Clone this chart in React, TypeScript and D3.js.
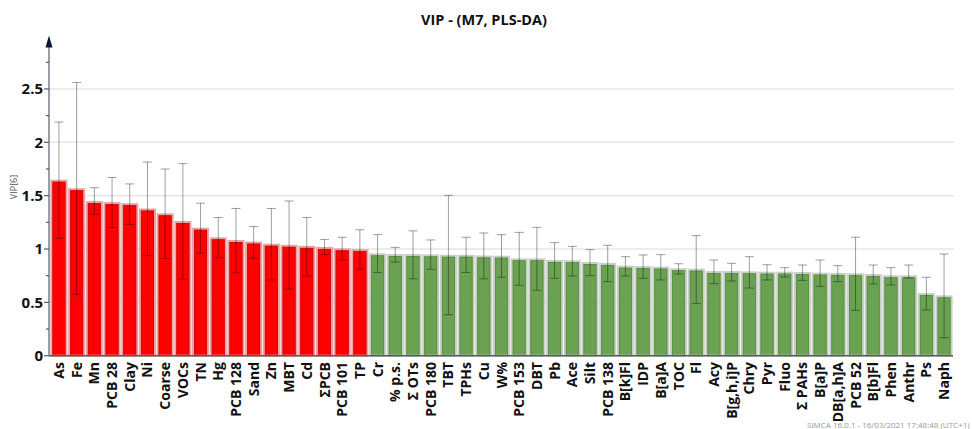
import React from "react";
import * as d3 from "d3";

const categories = ["As","Fe","Mn","PCB 28","Clay","Ni","Coarse","VOCs","TN","Hg","PCB 128","Sand","Zn","MBT","Cd","ΣPCB","PCB 101","TP","Cr","% p.s.","Σ OTs","PCB 180","TBT","TPHs","Cu","W%","PCB 153","DBT","Pb","Ace","Silt","PCB 138","B[k]Fl","IDP","B[a]A","TOC","Fl","Acy","B[g,h,i]P","Chry","Pyr","Fluo","Σ PAHs","B[a]P","DB[a,h]A","PCB 52","B[b]Fl","Phen","Anthr","Ps","Naph"];
const vip = [1.64,1.56,1.44,1.43,1.42,1.37,1.325,1.253,1.19,1.10,1.075,1.06,1.04,1.03,1.02,1.01,0.997,0.99,0.95,0.944,0.944,0.94,0.937,0.937,0.93,0.928,0.903,0.903,0.888,0.885,0.869,0.86,0.834,0.831,0.825,0.81,0.806,0.784,0.784,0.781,0.778,0.778,0.775,0.769,0.766,0.763,0.756,0.744,0.744,0.578,0.556];
const errHigh = [2.19,2.56,1.575,1.67,1.61,1.815,1.75,1.80,1.43,1.295,1.38,1.21,1.38,1.45,1.295,1.09,1.11,1.18,1.135,1.015,1.17,1.085,1.503,1.11,1.15,1.134,1.156,1.203,1.06,1.025,0.994,1.035,0.928,0.944,0.947,0.862,1.125,0.897,0.866,0.928,0.853,0.825,0.85,0.897,0.844,1.11,0.85,0.825,0.85,0.735,0.953];
const errLow = [1.10,0.575,1.325,1.20,1.23,0.94,0.91,0.716,0.963,0.916,0.775,0.913,0.71,0.625,0.747,0.947,0.897,0.81,0.78,0.878,0.72,0.81,0.384,0.78,0.72,0.735,0.66,0.613,0.725,0.747,0.75,0.694,0.747,0.725,0.71,0.766,0.49,0.675,0.70,0.634,0.71,0.738,0.706,0.65,0.694,0.425,0.672,0.663,0.728,0.428,0.169];
const redCount = 18;
const majorTicks = [0, 0.5, 1, 1.5, 2, 2.5];
const minorTicks = [0.25, 0.75, 1.25, 1.75, 2.25, 2.75];
const tickLabels = ["0", "0.5", "1", "1.5", "2", "2.5"];

const W = 972, H = 429;
const axisX = 49, plotRight = 954, baseY = 355.7;
const font = "'Open Sans', 'DejaVu Sans', sans-serif";

export default function App() {
  const x = d3.scaleBand<string>().domain(categories).range([50, 953]).paddingInner(0.15).paddingOuter(0.08);
  const y = d3.scaleLinear().domain([0, 3]).range([baseY, baseY - 3 * 106.7]);
  const bw = x.bandwidth();
  return (
    <svg width={W} height={H} style={{ position: "absolute", left: 0, top: 0, background: "#fff" }} fontFamily={font}>
      <text x={484} y={25} textAnchor="middle" fontSize={14.5} fontWeight="bold" fill="#111">VIP - (M7, PLS-DA)</text>
      {majorTicks.filter(t => t > 0).map(t => (
        <line key={"g" + t} x1={axisX} x2={plotRight} y1={y(t)} y2={y(t)} stroke="#e6e6e6" strokeWidth={1.5} />
      ))}
      {categories.map((c, i) => {
        const red = i < redCount;
        const x0 = x(c)!;
        return (
          <g key={c}>
            <rect x={x0} y={y(vip[i])} width={bw} height={baseY - y(vip[i])}
              fill={red ? "#ff0000" : "#6aa252"} stroke={red ? "#e9a3a3" : "#c9cfc6"} strokeWidth={2} />
            <rect x={x0 + 1.5} y={y(vip[i]) + 1.5} width={bw - 3} height={baseY - y(vip[i]) - 1.5}
              fill="none" stroke={red ? "#c81010" : "#5b8c46"} strokeWidth={0.8} />
          </g>
        );
      })}
      {categories.map((c, i) => {
        const cx = x(c)! + bw / 2;
        return (
          <g key={"e" + c} stroke="rgba(0,0,0,0.38)" strokeWidth={1}>
            <line x1={cx} x2={cx} y1={y(errHigh[i])} y2={y(errLow[i])} />
            <line x1={cx - 4.5} x2={cx + 4.5} y1={y(errHigh[i])} y2={y(errHigh[i])} />
            <line x1={cx - 4.5} x2={cx + 4.5} y1={y(errLow[i])} y2={y(errLow[i])} />
          </g>
        );
      })}
      <line x1={axisX} x2={953} y1={baseY} y2={baseY} stroke="#555a66" strokeWidth={1.5} />
      <line x1={axisX} x2={axisX} y1={baseY} y2={y(3) + 8} stroke="#777c88" strokeWidth={1.5} />
      <path d={`M${axisX},${y(3)} L${axisX - 3.5},${y(3) + 12} L${axisX + 3.5},${y(3) + 12} Z`} fill="#0b1633" />
      {majorTicks.map((t, i) => (
        <g key={"t" + t}>
          <line x1={axisX - 5} x2={axisX} y1={y(t)} y2={y(t)} stroke="#555a66" strokeWidth={1.2} />
          <text x={axisX - 6} y={y(t)} dy="0.36em" textAnchor="end" fontSize={15} fontWeight="bold" fill="#111">{tickLabels[i]}</text>
        </g>
      ))}
      {minorTicks.map(t => (
        <line key={"m" + t} x1={axisX - 3} x2={axisX} y1={y(t)} y2={y(t)} stroke="#555a66" strokeWidth={1.2} />
      ))}
      <text transform={`translate(17,187) rotate(-90)`} textAnchor="middle" fontSize={9} fill="#555">VIP[6]</text>
      {categories.map(c => (
        <text key={"l" + c} transform={`translate(${x(c)! + bw / 2},362) rotate(-90)`} dy="0.36em" textAnchor="end" fontSize={14} fontWeight="bold" fill="#111">{c}</text>
      ))}
      <text x={807} y={428} fontSize={8} fill="#999">SIMCA 16.0.1 - 16/03/2021 17:48:48 (UTC+1)</text>
    </svg>
  );
}
